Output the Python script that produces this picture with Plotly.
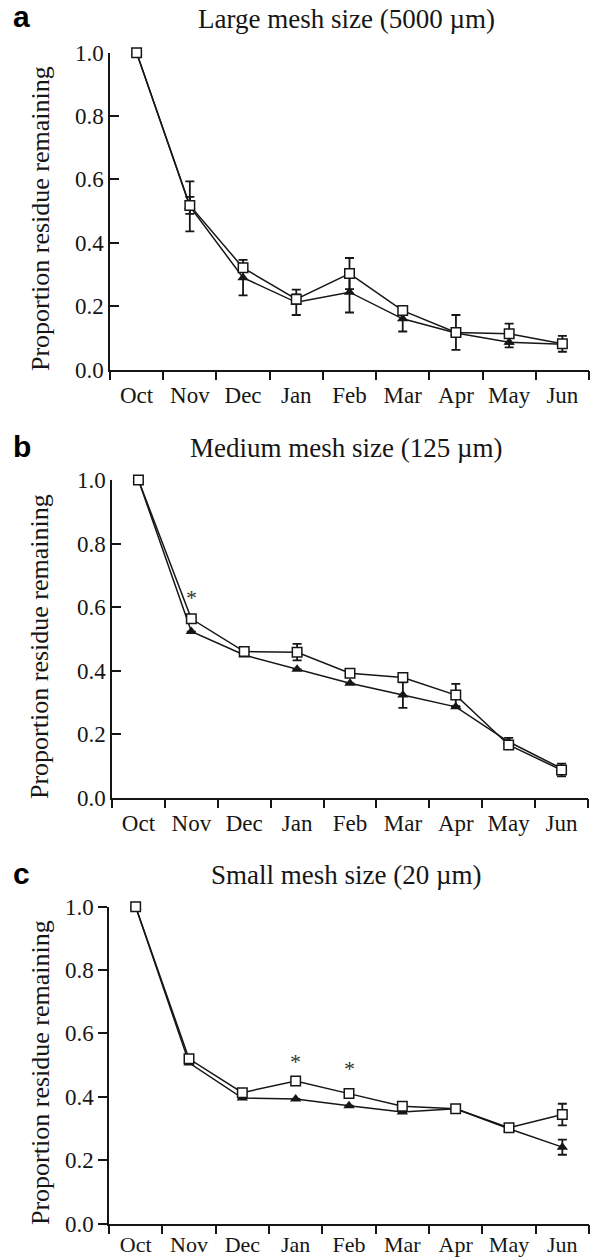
import plotly.graph_objects as go

W, H = 594, 1260

months = ["Oct", "Nov", "Dec", "Jan", "Feb", "Mar", "Apr", "May", "Jun"]
x_pos = list(range(len(months)))
y_ticks = [0.0, 0.2, 0.4, 0.6, 0.8, 1.0]
y_ticktext = ["0.0", "0.2", "0.4", "0.6", "0.8", "1.0"]

titles = ["Large mesh size (5000 \u00b5m)", "Medium mesh size (125 \u00b5m)", "Small mesh size (20 \u00b5m)"]
letters = ["a", "b", "c"]

# Panel a (large mesh)
a_square = [1.0, 0.518, 0.321, 0.222, 0.303, 0.186, 0.117, 0.113, 0.081]
a_square_err = [None, 0.027, 0.012, 0.015, 0.049, 0.01, 0.055, 0.032, 0.025]
a_tri = [1.0, 0.515, 0.290, 0.212, 0.244, 0.160, 0.115, 0.086, 0.080]
a_tri_err = [None, 0.079, 0.056, 0.040, 0.064, 0.040, None, 0.016, None]

# Panel b (medium mesh)
b_square = [1.0, 0.563, 0.460, 0.458, 0.392, 0.378, 0.323, 0.166, 0.087]
b_square_err = [None, None, None, 0.026, None, None, 0.035, 0.010, 0.020]
b_tri = [1.0, 0.523, 0.449, 0.404, 0.360, 0.323, 0.286, 0.176, 0.092]
b_tri_err = [None, None, None, None, None, 0.040, None, 0.012, None]

# Panel c (small mesh)
c_square = [1.0, 0.520, 0.413, 0.450, 0.410, 0.370, 0.362, 0.302, 0.344]
c_square_err = [None, None, None, None, None, None, None, None, 0.034]
c_tri = [1.0, 0.507, 0.396, 0.393, 0.372, 0.352, 0.362, 0.299, 0.241]
c_tri_err = [None, None, None, None, None, None, None, None, 0.024]

# significance marks (month index, y)
b_stars_x = [1]
b_stars_y = [0.64]
c_stars_x = [3, 4]
c_stars_y = [0.52, 0.50]

panels = [
    dict(sq=a_square, sqe=a_square_err, tr=a_tri, tre=a_tri_err, stx=[], sty=[],
         px=(110, 589), py=(52.7, 369.5), ticks="inside", xlab_len=4, xlab_size=23,
         title_y=19, letter_y=17, ylab_y=219),
    dict(sq=b_square, sqe=b_square_err, tr=b_tri, tre=b_tri_err, stx=b_stars_x, sty=b_stars_y,
         px=(112, 588), py=(480.0, 797.7), ticks="inside", xlab_len=4, xlab_size=23,
         title_y=448, letter_y=446, ylab_y=647),
    dict(sq=c_square, sqe=c_square_err, tr=c_tri, tre=c_tri_err, stx=c_stars_x, sty=c_stars_y,
         px=(109, 589), py=(906.7, 1223.5), ticks="outside", xlab_len=0, xlab_size=22,
         title_y=875, letter_y=873, ylab_y=1073),
]

INK = "#161616"
SERIF = "Liberation Serif, Times New Roman, serif"
SANS = "Liberation Sans, Arial, sans-serif"

fig = go.Figure()
annotations = []
layout_axes = {}

for i, p in enumerate(panels):
    n = "" if i == 0 else str(i + 1)
    xa, ya = "x" + n, "y" + n
    fig.add_trace(go.Scatter(
        x=x_pos, y=p["tr"], mode="lines+markers", xaxis=xa, yaxis=ya,
        line=dict(color=INK, width=1.5),
        marker=dict(symbol="triangle-up", size=10, color=INK, line=dict(width=0)),
        error_y=dict(type="data", array=p["tre"], visible=True, color=INK, thickness=1.8, width=4.5),
        cliponaxis=False, showlegend=False, hoverinfo="skip"))
    fig.add_trace(go.Scatter(
        x=x_pos, y=p["sq"], mode="lines+markers", xaxis=xa, yaxis=ya,
        line=dict(color=INK, width=1.5),
        marker=dict(symbol="square", size=9.5, color="white", line=dict(color=INK, width=1.5)),
        error_y=dict(type="data", array=p["sqe"], visible=True, color=INK, thickness=1.8, width=4.5),
        cliponaxis=False, showlegend=False, hoverinfo="skip"))

    x0, x1 = p["px"]
    ytop, ybot = p["py"]
    layout_axes["xaxis" + n] = dict(
        domain=[x0 / W, x1 / W], range=[-0.5, 8.5], anchor=ya, automargin=False,
        tickmode="array", tickvals=x_pos, ticktext=months,
        ticks="outside", ticklen=p["xlab_len"], tickcolor="rgba(0,0,0,0)",
        minor=dict(tickmode="array", tickvals=[k - 0.5 for k in range(10)],
                   ticks="outside", ticklen=9, tickwidth=1.5, tickcolor=INK, showgrid=False),
        showline=True, linecolor=INK, linewidth=1.5, showgrid=False, zeroline=False,
        tickfont=dict(family=SERIF, size=p["xlab_size"], color=INK), fixedrange=True)
    layout_axes["yaxis" + n] = dict(
        domain=[1 - ybot / H, 1 - ytop / H], range=[0, 1], anchor=xa, automargin=False,
        tickmode="array", tickvals=y_ticks, ticktext=y_ticktext,
        ticks=p["ticks"], ticklen=9, tickwidth=1.5, tickcolor=INK,
        showline=True, linecolor=INK, linewidth=1.5, showgrid=False, zeroline=False,
        tickfont=dict(family=SERIF, size=23, color=INK), fixedrange=True)

    cx = (x0 + x1) / 2 - 3
    annotations.append(dict(text=titles[i], xref="paper", yref="paper", x=cx / W, y=1 - p["title_y"] / H,
                            xanchor="center", yanchor="middle", showarrow=False,
                            font=dict(family=SERIF, size=27, color=INK)))
    annotations.append(dict(text="<b>" + letters[i] + "</b>", xref="paper", yref="paper", x=21.5 / W,
                            y=1 - p["letter_y"] / H, xanchor="center", yanchor="middle", showarrow=False,
                            font=dict(family=SANS, size=30, color="#000")))
    annotations.append(dict(text="Proportion residue remaining", xref="paper", yref="paper", x=40 / W,
                            y=1 - p["ylab_y"] / H, xanchor="center", yanchor="middle", textangle=-90,
                            showarrow=False, font=dict(family=SERIF, size=26, color=INK)))
    for sx, sy in zip(p["stx"], p["sty"]):
        annotations.append(dict(text="*", xref=xa, yref=ya, x=sx, y=sy, yshift=-3,
                                xanchor="center", yanchor="middle", showarrow=False,
                                font=dict(family=SERIF, size=22, color="#333")))

fig.update_layout(
    width=W, height=H, autosize=False,
    margin=dict(l=0, r=0, t=0, b=0, pad=0, autoexpand=False),
    paper_bgcolor="white", plot_bgcolor="white",
    showlegend=False, annotations=annotations,
    **layout_axes)

fig.write_html("out.html", config={"responsive": False, "displayModeBar": False},
               post_script="document.body.style.margin='0';document.body.style.overflow='hidden';")
